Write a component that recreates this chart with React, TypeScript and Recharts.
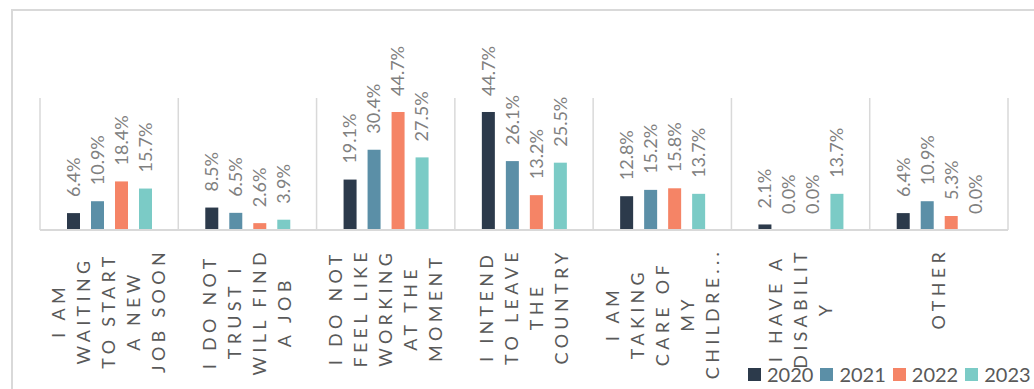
import React, { useLayoutEffect, useRef, useState } from 'react';
import { BarChart, Bar, XAxis, YAxis, CartesianGrid } from 'recharts';

const categories = [
  'I am waiting to start a new job soon',
  'I do not trust I will find a job',
  'I do not feel like working at the moment',
  'I intend to leave the country',
  'I am taking care of my children',
  'I have a disability',
  'Other',
];

// wrapped, upper-cased axis labels as they appear under each group
const tickLines = [
  ['I AM', 'WAITING', 'TO START', 'A NEW', 'JOB SOON'],
  ['I DO NOT', 'TRUST I', 'WILL FIND', 'A JOB'],
  ['I DO NOT', 'FEEL LIKE', 'WORKING', 'AT THE', 'MOMENT'],
  ['I INTEND', 'TO LEAVE', 'THE', 'COUNTRY'],
  ['I AM', 'TAKING', 'CARE OF', 'MY', 'CHILDRE...'],
  ['I HAVE A', 'DISABILIT', 'Y'],
  ['OTHER'],
];

const years = ['2020', '2021', '2022', '2023'];
const colors = ['#2C3A4B', '#5B8FA7', '#F58466', '#7BCBC6'];

const values2020 = [6.4, 8.5, 19.1, 44.7, 12.8, 2.1, 6.4];
const values2021 = [10.9, 6.5, 30.4, 26.1, 15.2, 0.0, 10.9];
const values2022 = [18.4, 2.6, 44.7, 13.2, 15.8, 0.0, 5.3];
const values2023 = [15.7, 3.9, 27.5, 25.5, 13.7, 13.7, 0.0];

const series = [values2020, values2021, values2022, values2023];

const data = categories.map((name, i) => {
  const row: Record<string, string | number> = { name };
  years.forEach((y, s) => {
    row[y] = series[s][i];
  });
  return row;
});

const FONT = 'Lato, "Open Sans", sans-serif';

const CategoryTick = (props: any) => {
  const { x, y, payload } = props;
  const idx = props.index ?? categories.indexOf(payload.value);
  const lines = tickLines[idx] || [];
  const refs = useRef<(SVGTextElement | null)[]>([]);
  const [maxLen, setMaxLen] = useState(lines.reduce((m, l) => Math.max(m, l.length), 0) * 15.5);

  useLayoutEffect(() => {
    const m = Math.max(0, ...refs.current.map((t) => (t ? t.getComputedTextLength() : 0)));
    if (Math.abs(m - maxLen) > 0.5) setMaxLen(m);
  });

  const lineH = 25;
  const x0 = x - ((lines.length - 1) * lineH) / 2;
  return (
    <g transform={`translate(${x0},${y}) rotate(-90)`}>
      {lines.map((l, i) => (
        <text
          key={i}
          ref={(el) => {
            refs.current[i] = el;
          }}
          x={-maxLen / 2}
          y={i * lineH}
          dy="0.35em"
          textAnchor="middle"
          fill="#595959"
          fontSize={18}
          letterSpacing={4.3}
          fontFamily={FONT}
        >
          {l}
        </text>
      ))}
    </g>
  );
};

// bar plus its rotated value label; drawn together so 0.0% still gets a label
const BarWithLabel = (props: any) => {
  const { x, y, width, height, fill, value } = props;
  const v = Array.isArray(value) ? value[1] - value[0] : value;
  const cx = x + width / 2;
  const cy = y - 16;
  return (
    <g>
      {height > 0 && <rect x={x} y={y} width={width} height={height} fill={fill} />}
      <text
        x={cx}
        y={cy}
        dy="0.35em"
        transform={`rotate(-90, ${cx}, ${cy})`}
        textAnchor="start"
        fill="#808080"
        fontSize={18}
        fontFamily={FONT}
      >
        {`${Number(v).toFixed(1)}%`}
      </text>
    </g>
  );
};

const groupLines = ({ offset }: any) => {
  const pts: number[] = [];
  for (let i = 0; i <= categories.length; i++) {
    pts.push(offset.left + (i * offset.width) / categories.length);
  }
  return pts;
};

export default function App() {
  return (
    <div style={{ position: 'absolute', left: 0, top: 0, width: 1034, height: 389, overflow: 'hidden', background: '#fff' }}>
      <div
        style={{
          position: 'absolute',
          left: 11,
          top: 9,
          width: 1040,
          height: 400,
          borderLeft: '2px solid #d9d9d9',
          borderTop: '2px solid #d9d9d9',
        }}
      />
      <BarChart
        width={1034}
        height={389}
        data={data}
        margin={{ top: 98, right: 26, left: 40, bottom: 19 }}
        barSize={13}
        barGap={11}
        style={{ position: 'absolute', left: 0, top: 0 }}
      >
        <CartesianGrid horizontal={false} stroke="#d9d9d9" strokeWidth={1.5} verticalCoordinatesGenerator={groupLines} />
        <XAxis
          dataKey="name"
          height={140}
          interval={0}
          tickLine={false}
          tickSize={0}
          tickMargin={18}
          axisLine={{ stroke: '#d9d9d9', strokeWidth: 2 }}
          tick={<CategoryTick />}
        />
        <YAxis hide domain={[0, 50]} />
        {years.map((y, s) => (
          <Bar key={y} dataKey={y} fill={colors[s]} isAnimationActive={false} shape={<BarWithLabel />} />
        ))}
      </BarChart>
      <div
        style={{
          position: 'absolute',
          left: 748,
          top: 362,
          display: 'flex',
          whiteSpace: 'nowrap',
          fontFamily: FONT,
          fontSize: 20,
          color: '#595959',
        }}
      >
        {years.map((y, s) => (
          <div key={y} style={{ display: 'flex', alignItems: 'center', marginRight: 7 }}>
            <span style={{ display: 'inline-block', width: 13, height: 13, background: colors[s], marginRight: 6 }} />
            <span>{y}</span>
          </div>
        ))}
      </div>
    </div>
  );
}
